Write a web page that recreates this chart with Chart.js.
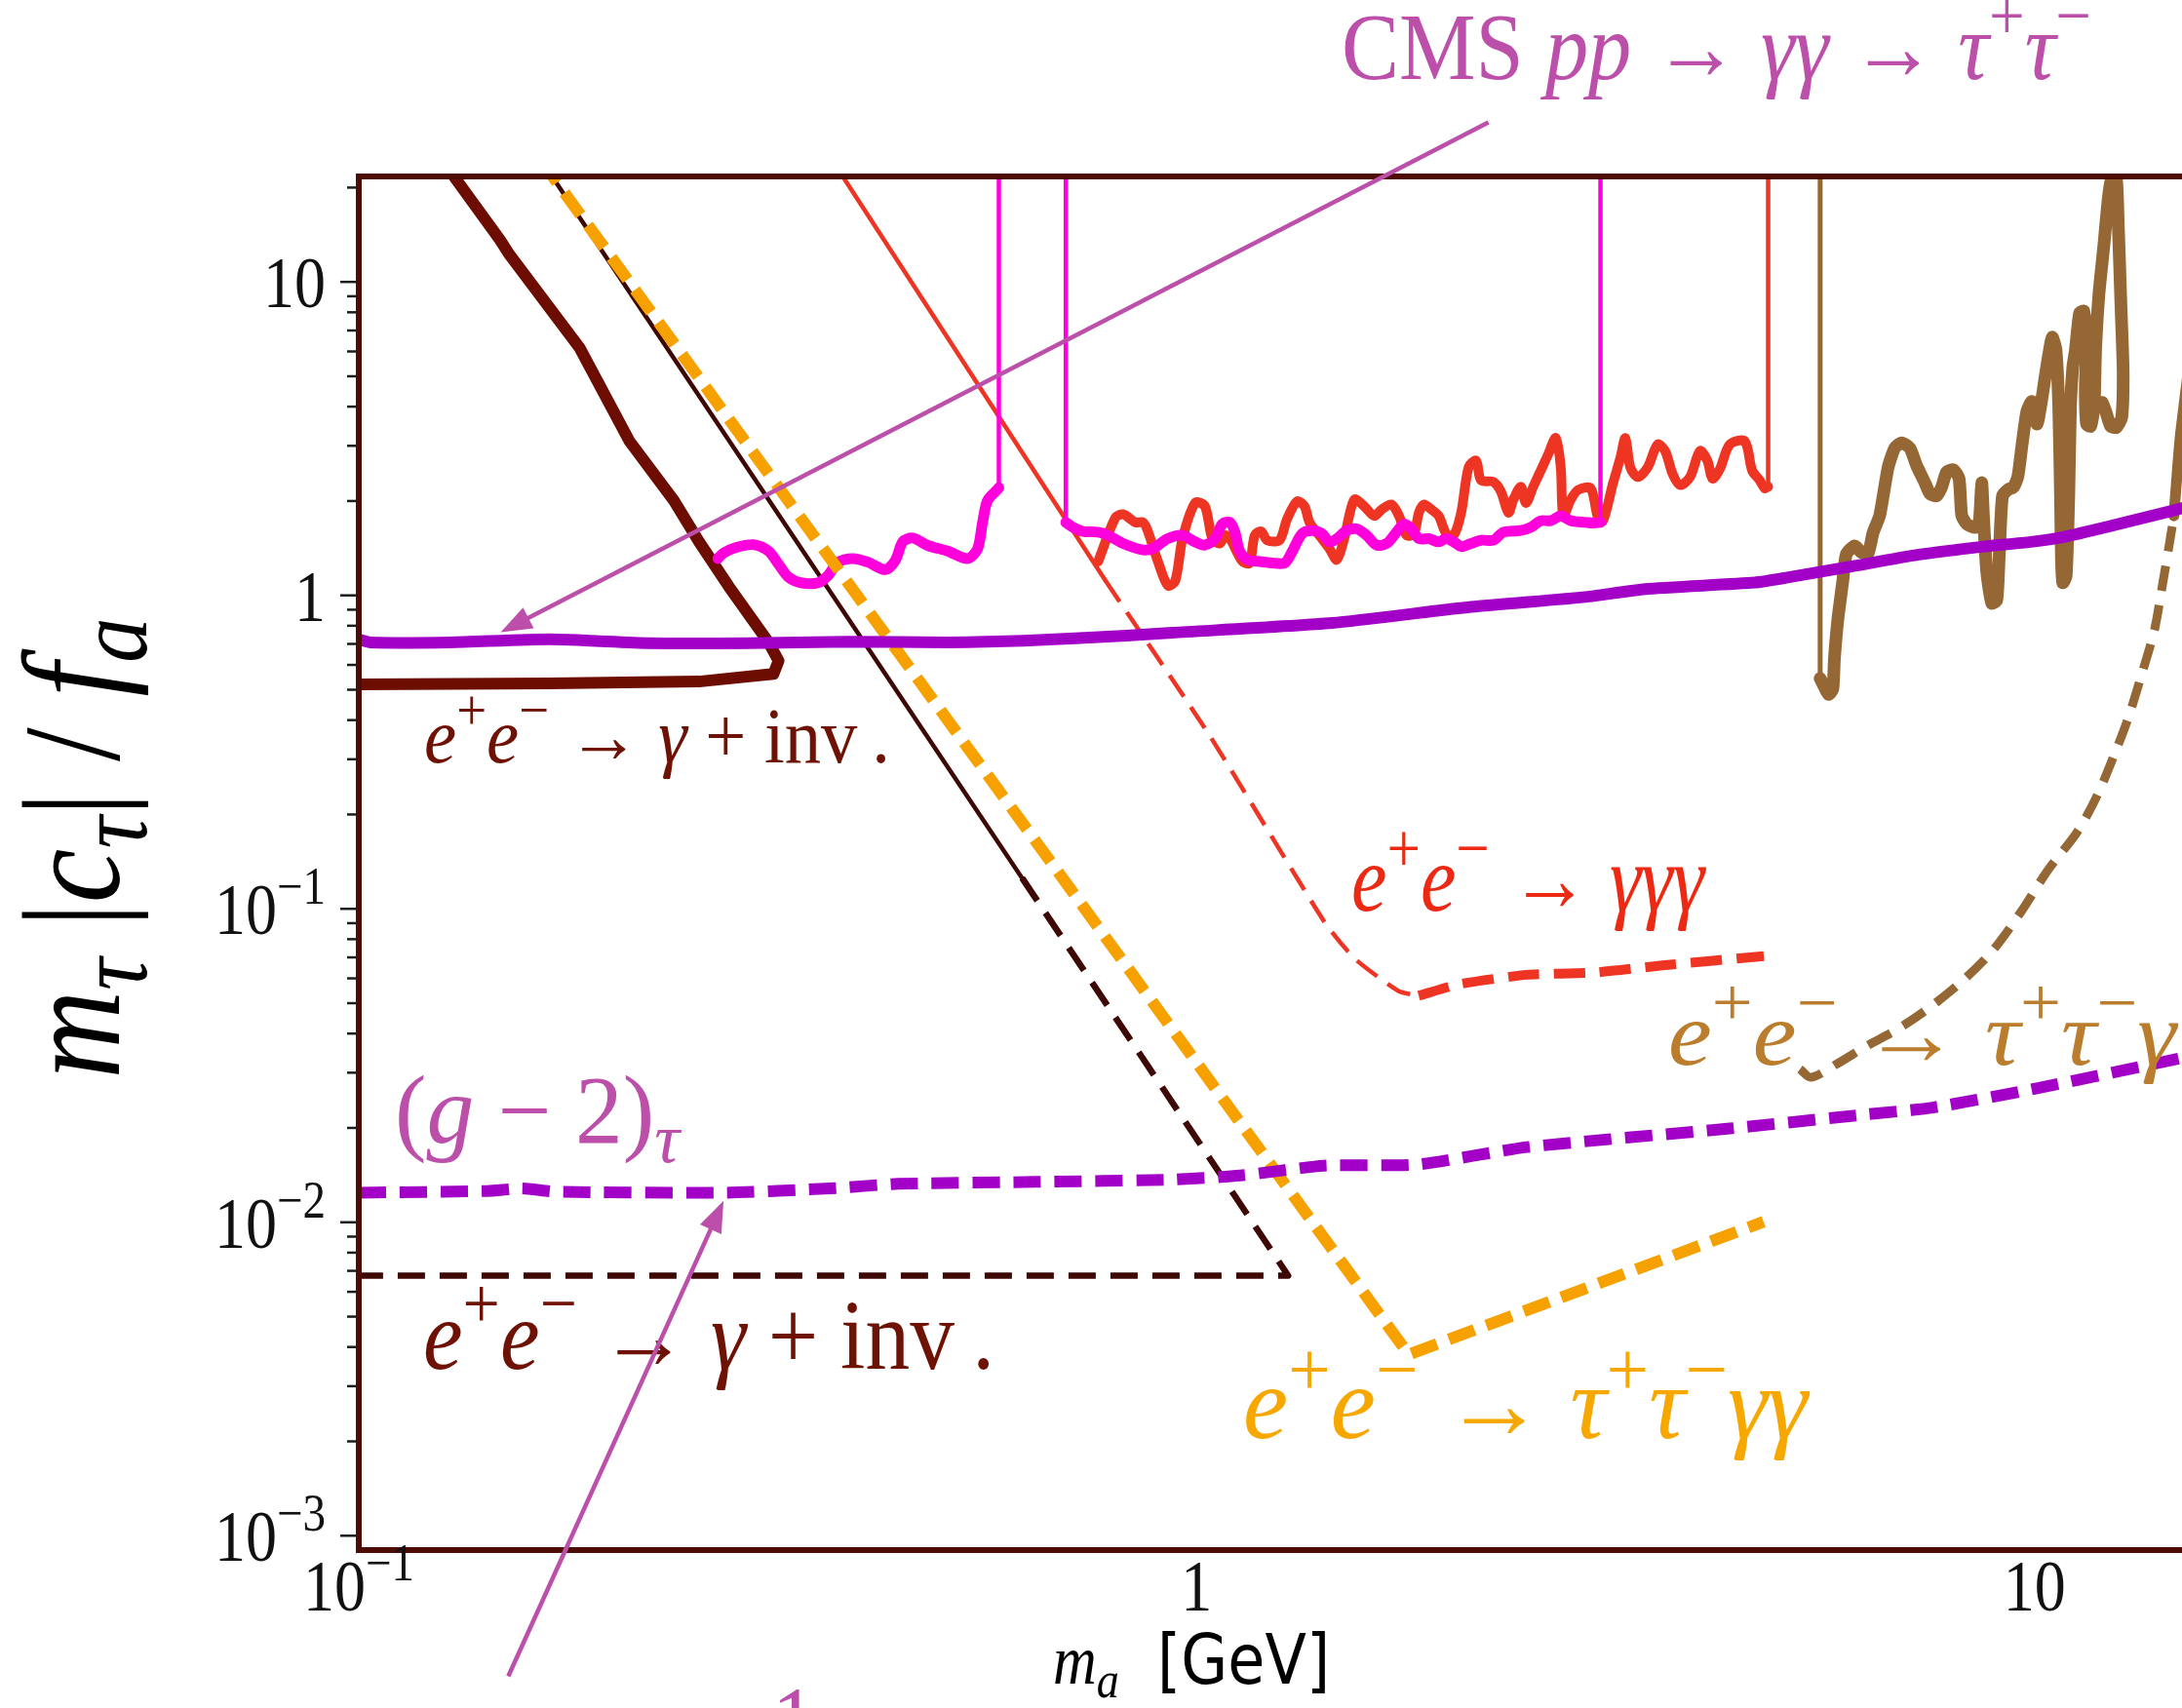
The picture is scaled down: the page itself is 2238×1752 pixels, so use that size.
<!DOCTYPE html>
<html>
<head>
<meta charset="utf-8">
<title>tau coupling limits</title>
<script src="https://cdn.jsdelivr.net/npm/chart.js@4.4.1/dist/chart.umd.min.js"></script>
<style>
	html, body { margin: 0; padding: 0; background: #fff; overflow: hidden; }
	#wrap { position: relative; width: 2238px; height: 1752px; }
</style>
</head>
<body>
<div id="wrap"><canvas id="limitChart"></canvas></div>
<script>
// axis ranges (GeV on x, m_tau |c_tau| / f_a on y)
const xRange = [0.1, 15.0];
const yRange = [0.0009, 21.7];
const xTickDecades = [0.1, 1, 10];
const yTickDecades = [0.001, 0.01, 0.1, 1, 10];

// e+e- -> gamma + inv. (thick, existing)
const monoMass = [0.1294, 0.1474, 0.1513, 0.1835, 0.2104, 0.2378, 0.2547, 0.2765, 0.3084, 0.317, 0.3126, 0.2547, 0.1689, 0.1];
const monoLimit = [22, 13.63, 12.22, 6.16, 3.105, 2.004, 1.483, 1.067, 0.708, 0.618, 0.5615, 0.531, 0.524, 0.52];

// e+e- -> gamma + inv. (thin projection, solid then dashed)
const monoProjMass = [0.165, 0.619];
const monoProjLimit = [24.5, 0.1254];
const monoProjDashMass = [0.619, 1.286, 0.1];
const monoProjDashLimit = [0.1254, 0.00676, 0.00676];

// e+e- -> tau+ tau- gamma gamma
const ttggMass = [0.165, 1.791, 4.75];
const ttggLimit = [24.4, 0.003786, 0.01004];

// e+e- -> gamma gamma gamma
const gggLineMass = [0.372, 0.7786];
const gggLineLimit = [23.2, 1.113];
const gggThinDashMass = [0.7786, 1.035, 1.419, 1.543, 1.741, 1.841];
const gggThinDashLimit = [1.113, 0.359, 0.0913, 0.0695, 0.0547, 0.0528];
const gggDashMass = [1.841, 2.059, 2.480, 2.985, 3.597, 4.753];
const gggDashLimit = [0.0528, 0.0575, 0.0616, 0.0626, 0.066, 0.0707];
const gggMass = [0.763, 0.800, 0.817, 0.834, 0.845, 0.863, 0.874, 0.899, 0.924, 0.943, 0.962, 0.996, 1.023, 1.044, 1.066, 1.081, 1.096, 1.134, 1.157, 1.173, 1.194, 1.214, 1.256, 1.282, 1.318, 1.345, 1.364, 1.411, 1.440, 1.470, 1.500, 1.542, 1.585, 1.629, 1.663, 1.708, 1.744, 1.780, 1.817, 1.842, 1.867, 1.906, 1.945, 1.986, 2.027, 2.069, 2.112, 2.156, 2.185, 2.261, 2.308, 2.356, 2.388, 2.438, 2.472, 2.522, 2.575, 2.628, 2.683, 2.720, 2.739, 2.796, 2.854, 2.953, 3.013, 3.055, 3.140, 3.205, 3.249, 3.293, 3.362, 3.455, 3.550, 3.624, 3.699, 3.776, 3.881, 3.988, 4.071, 4.127, 4.213, 4.329, 4.510, 4.603, 4.699, 4.764, 4.810];
const gggLimit = [1.284, 1.771, 1.814, 1.751, 1.709, 1.709, 1.610, 1.284, 1.074, 1.113, 1.517, 1.972, 1.925, 1.517, 1.464, 1.554, 1.517, 1.284, 1.269, 1.554, 1.599, 1.499, 1.499, 1.751, 1.996, 1.925, 1.709, 1.517, 1.412, 1.299, 1.517, 2.020, 1.925, 1.793, 1.880, 1.949, 1.793, 1.554, 1.573, 1.836, 1.949, 1.880, 1.793, 1.573, 1.554, 1.836, 2.564, 2.689, 2.330, 2.302, 2.144, 1.836, 2.020, 2.222, 1.972, 2.222, 2.503, 2.819, 3.177, 2.564, 1.793, 2.020, 2.170, 2.195, 1.771, 1.730, 2.275, 2.754, 3.177, 2.564, 2.386, 2.564, 3.029, 2.888, 2.444, 2.248, 2.386, 2.888, 2.689, 2.358, 2.533, 3.029, 3.102, 2.503, 2.330, 2.195, 2.222];
const gggEdgeMass = [4.81, 4.81];
const gggEdgeLimit = [2.222, 30];

// second e+e- -> gamma gamma gamma search (magenta)
const belleMassA = [0.2683, 0.2727, 0.2822, 0.2960, 0.3083, 0.3169, 0.3257, 0.3370, 0.3535, 0.3633, 0.3734, 0.3890, 0.4053, 0.4251, 0.4369, 0.4460, 0.4584, 0.4775, 0.5043, 0.5327, 0.5475, 0.5551, 0.5627, 0.5783, 0.5807];
const belleLimitA = [1.311, 1.366, 1.423, 1.451, 1.385, 1.258, 1.143, 1.097, 1.097, 1.159, 1.276, 1.311, 1.276, 1.208, 1.293, 1.483, 1.524, 1.443, 1.385, 1.311, 1.404, 1.700, 2.004, 2.176, 2.206];
const belleMassB = [0.698, 0.712, 0.732, 0.763, 0.784, 0.817, 0.863, 0.887, 0.924, 0.962, 0.996, 1.023, 1.052, 1.073, 1.096, 1.111, 1.126, 1.150, 1.181, 1.231, 1.274, 1.300, 1.336, 1.373, 1.411, 1.440, 1.470, 1.511, 1.553, 1.596, 1.640, 1.686, 1.732, 1.768, 1.805, 1.842, 1.893, 1.945, 1.986, 2.041, 2.069, 2.126, 2.185, 2.261, 2.324, 2.438, 2.505, 2.575, 2.646, 2.720, 2.796, 2.913, 2.972, 3.034];
const belleLimitB = [1.709, 1.649, 1.599, 1.591, 1.554, 1.464, 1.396, 1.412, 1.517, 1.554, 1.481, 1.447, 1.517, 1.689, 1.709, 1.591, 1.379, 1.299, 1.284, 1.269, 1.269, 1.379, 1.573, 1.610, 1.573, 1.481, 1.517, 1.610, 1.630, 1.554, 1.447, 1.464, 1.591, 1.689, 1.630, 1.517, 1.517, 1.481, 1.517, 1.464, 1.429, 1.464, 1.499, 1.499, 1.591, 1.610, 1.649, 1.730, 1.730, 1.793, 1.730, 1.709, 1.701, 1.709];
const belleEdgeMassA = [0.5807, 0.5807];
const belleEdgeLimitA = [2.206, 30];
const belleEdgeMassB = [0.698, 0.698];
const belleEdgeLimitB = [30, 1.709];
const belleEdgeMassC = [3.034, 3.034];
const belleEdgeLimitC = [1.709, 30];

// CMS pp -> gamma gamma -> tau tau
const cmsMass = [0.1, 0.1033, 0.1285, 0.169, 0.2221, 0.2919, 0.3837, 0.5043, 0.621, 0.825, 0.936, 1.45, 2.126, 2.913, 3.431, 4.636, 5.07, 6.06, 7.25, 8.66, 9.90, 10.83, 12.38, 14.81, 15.3];
const cmsLimit = [0.724, 0.708, 0.708, 0.724, 0.704, 0.704, 0.712, 0.708, 0.716, 0.744, 0.760, 0.816, 0.919, 0.988, 1.048, 1.099, 1.140, 1.238, 1.347, 1.429, 1.481, 1.535, 1.669, 1.880, 1.93];

// (g-2)_tau
const g2Mass = [0.1, 0.1424, 0.1565, 0.1719, 0.2751, 0.3648, 0.4401, 0.641, 0.934, 1.127, 1.419, 1.838, 2.48, 4.33, 6.28, 7.56, 10.0, 15.3];
const g2Limit = [0.01243, 0.01258, 0.01282, 0.01252, 0.01243, 0.01282, 0.01326, 0.01345, 0.01368, 0.0141, 0.01515, 0.0153, 0.01737, 0.01992, 0.02207, 0.02323, 0.02665, 0.0338];

// e+e- -> tau+ tau- gamma
const ttgEdgeMass = [5.549, 5.549];
const ttgEdgeLimit = [30, 0.5435];
const ttgMass = [5.549, 5.615, 5.677, 5.745, 5.771, 5.825, 5.906, 5.961, 6.099, 6.213, 6.329, 6.417, 6.536, 6.688, 6.812, 6.939, 7.100, 7.232, 7.400, 7.503, 7.642, 7.748, 7.856, 8.002, 8.128, 8.188, 8.300, 8.494, 8.588, 8.651, 8.691, 8.771, 8.893, 9.016, 9.074, 9.158, 9.312, 9.441, 9.556, 9.661, 9.795, 9.931, 10.07, 10.19, 10.30, 10.40, 10.50, 10.61, 10.69, 10.74, 10.77, 10.81, 10.91, 10.99, 11.04, 11.11, 11.19, 11.32, 11.45, 11.54, 11.50, 11.54, 11.67, 11.78, 11.83, 11.94, 12.10, 12.25, 12.36, 12.52, 12.59, 12.68, 12.76, 12.71, 12.52, 12.33, 12.16, 12.05];
const ttgLimit = [0.5435, 0.5099, 0.4830, 0.5017, 0.6277, 0.8365, 1.115, 1.350, 1.439, 1.372, 1.359, 1.584, 1.800, 2.557, 2.953, 3.068, 2.953, 2.598, 2.287, 2.111, 2.078, 2.215, 2.477, 2.517, 2.361, 1.800, 1.689, 1.646, 1.689, 2.287, 1.800, 1.188, 0.9441, 0.9656, 1.307, 2.078, 2.180, 2.215, 2.399, 3.000, 3.874, 4.156, 3.520, 4.129, 5.000, 5.866, 6.665, 6.056, 4.000, 2.111, 1.307, 1.097, 1.151, 2.111, 4.000, 5.330, 6.056, 7.945, 8.073, 6.665, 4.543, 3.520, 3.464, 4.000, 6.056, 9.173, 13.03, 18.51, 21.38, 21.59, 15.29, 8.607, 5.163, 3.693, 3.431, 3.464, 3.874, 4.129];
const ttgProjMass = [5.25, 5.41, 5.832, 6.283, 6.894, 7.564, 8.302, 8.946, 9.635, 10.38, 11.25, 11.9, 12.5, 12.95, 13.42, 13.91, 14.22, 14.48, 14.67];
const ttgProjLimit = [0.0308, 0.029, 0.0322, 0.0363, 0.0416, 0.0493, 0.0606, 0.0744, 0.0978, 0.133, 0.176, 0.232, 0.318, 0.409, 0.557, 0.778, 1.086, 1.446, 1.793];
const ttgTailMass = [14.67, 14.81, 14.94, 15.3];
const ttgTailLimit = [1.793, 2.51, 3.29, 5.5];

// colours
const cPurple = '#a200c6';
const cNote = '#bc4fa9';
const cMagenta = '#ff00dc';
const cRed = '#ee3524';
const cOrange = '#f6a100';
const cBrown = '#956735';
const cMaroon = '#6d0c00';
const cMaroonThin = '#3e0805';
const cFrame = '#4e0c06';

function pts(xs, ys) {
	return xs.map((x, i) => ({ x: x, y: ys[i] }));
}

function line(xs, ys, color, width, dash, tension) {
	return {
		data: pts(xs, ys),
		borderColor: color,
		borderWidth: width,
		borderDash: dash || [],
		borderCapStyle: dash ? 'butt' : 'round',
		borderJoinStyle: 'round',
		tension: tension || 0,
		pointRadius: 0,
		fill: false,
	};
}

// first in list is drawn on top
const datasets = [
	line(cmsMass, cmsLimit, cPurple, 12, null, 0.2),
	line(g2Mass, g2Limit, cPurple, 12, [28, 14], 0.2),
	line(ttggMass, ttggLimit, cOrange, 12, [28, 13]),
	line(belleMassA, belleLimitA, cMagenta, 11, null, 0.3),
	line(belleMassB, belleLimitB, cMagenta, 11, null, 0.3),
	line(belleEdgeMassA, belleEdgeLimitA, cMagenta, 4.5),
	line(belleEdgeMassB, belleEdgeLimitB, cMagenta, 4.5),
	line(belleEdgeMassC, belleEdgeLimitC, cMagenta, 4.5),
	line(gggMass, gggLimit, cRed, 10, null, 0.3),
	line(gggEdgeMass, gggEdgeLimit, cRed, 4.5),
	line(gggDashMass, gggDashLimit, cRed, 10, [32, 15], 0.2),
	line(gggThinDashMass, gggThinDashLimit, cRed, 4.5, [26, 13], 0.2),
	line(gggLineMass, gggLineLimit, cRed, 4.5),
	line(ttgMass, ttgLimit, cBrown, 13, null, 0.2),
	line(ttgEdgeMass, ttgEdgeLimit, cBrown, 5),
	line(ttgProjMass, ttgProjLimit, cBrown, 9, [26, 15], 0.3),
	line(ttgTailMass, ttgTailLimit, cBrown, 11, null, 0.2),
	line(monoMass, monoLimit, cMaroon, 12),
	line(monoProjMass, monoProjLimit, cMaroonThin, 4.5),
	line(monoProjDashMass, monoProjDashLimit, cMaroonThin, 6.5, [28, 15]),
];

// text labels and arrows (pixel anchors for text, data anchors for arrows)
const ee = [['e', 'i'], ['+', 'sup'], ['e', 'i'], ['−', 'sup']];
const notes = [
	{ parts: [['CMS ', 'r'], ['pp', 'i'], [' → ', 'r'], ['γγ', 'i'], [' → ', 'r'], ['τ', 'i'], ['+', 'sup'], ['τ', 'i'], ['−', 'sup']], x: 1376, y: 81, size: 87, width: 769, color: cNote },
	{ parts: ee.concat([[' → ', 'r'], ['γ', 'i'], [' + inv\u2009.', 'r']]), x: 435, y: 782, size: 72, width: 478, color: '#6f1206' },
	{ parts: ee.concat([[' → ', 'r'], ['γγγ', 'i']]), x: 1386, y: 934, size: 86, width: 362, color: '#ec2a14' },
	{ parts: ee.concat([[' → ', 'r'], ['τ', 'i'], ['+', 'sup'], ['τ', 'i'], ['−', 'sup'], ['γ', 'i']]), x: 1711, y: 1092, size: 84, width: 521, color: '#b97d2d' },
	{ parts: [['(', 'r'], ['g', 'i'], [' − 2)', 'r'], ['τ', 'subi']], x: 405, y: 1172, size: 88, width: 292, color: cNote },
	{ parts: ee.concat([[' → ', 'r'], ['γ', 'i'], [' + inv\u2009.', 'r']]), x: 434, y: 1404, size: 90, width: 586, color: '#6f1206' },
	{ parts: ee.concat([[' → ', 'r'], ['τ', 'i'], ['+', 'sup'], ['τ', 'i'], ['−', 'sup'], ['γγ', 'i']]), x: 1275, y: 1475, size: 94, width: 579, color: '#f7a800' },
	{ parts: [['1', 'r']], x: 792, y: 1800, size: 90, color: cNote },
];
const arrows = [
	{ from: [2.23, 32.3], to: [0.1477, 0.763] },
	{ from: [0.1508, 0.000356], to: [0.2725, 0.0117] },
];

function fontOf(st, size) {
	const small = st.startsWith('sup') || st.startsWith('sub');
	const ital = st === 'i' || st === 'subi' || st === 'supi';
	const fam = st === 'sans' ? '"DejaVu Sans", sans-serif' : '"Liberation Serif", "Times New Roman", serif';
	return (ital ? 'italic ' : '') + Math.round(small ? size * 0.74 : size) + 'px ' + fam;
}

function drawRich(ctx, parts, x, y, o) {
	ctx.save();
	let w = 0;
	const widths = parts.map(([t, st]) => {
		ctx.font = fontOf(st, o.size);
		const m = ctx.measureText(t).width;
		w += m;
		return m;
	});
	const sx = o.width ? o.width / w : 1;
	const sy = o.sy || 1.12;
	let x0 = x;
	if (o.align === 'center') x0 = x - w * sx / 2;
	else if (o.align === 'right') x0 = x - w * sx;
	ctx.translate(x0, y);
	ctx.scale(sx, sy);
	ctx.fillStyle = o.color;
	ctx.textAlign = 'left';
	ctx.textBaseline = 'alphabetic';
	let cx = 0;
	parts.forEach(([t, st], i) => {
		ctx.font = fontOf(st, o.size);
		let dy = 0;
		if (st.startsWith('sup')) dy = -0.42 * o.size;
		if (st.startsWith('sub')) dy = 0.2 * o.size;
		ctx.fillText(t, cx, dy);
		cx += widths[i];
	});
	ctx.restore();
}

function decadeParts(v) {
	const e = Math.round(Math.log10(v));
	if (e === 0) return [['1', 'r']];
	if (e === 1) return [['10', 'r']];
	return [['10', 'r'], ['−' + Math.abs(e), 'sup']];
}

const decor = {
	id: 'decor',
	afterDatasetsDraw(chart) {
		const { ctx, chartArea: a, scales: { x, y } } = chart;
		ctx.save();

		// frame
		ctx.strokeStyle = cFrame;
		ctx.lineWidth = 6;
		ctx.lineCap = 'square';
		ctx.beginPath();
		ctx.moveTo(a.right + 5, a.top);
		ctx.lineTo(a.left, a.top);
		ctx.lineTo(a.left, a.bottom);
		ctx.lineTo(a.right + 5, a.bottom);
		ctx.stroke();

		// y ticks from the scale
		ctx.strokeStyle = '#1c1c1c';
		ctx.lineWidth = 2.5;
		ctx.lineCap = 'butt';
		y.ticks.forEach(t => {
			const v = t.value;
			const p = Math.floor(Math.log10(v) + 1e-9);
			const m = v / Math.pow(10, p);
			if (Math.abs(m - Math.round(m)) > 1e-6) return;
			const py = y.getPixelForValue(v);
			if (py < a.top + 2 || py > a.bottom - 2) return;
			const len = Math.round(m) === 1 ? 16 : 9;
			ctx.beginPath();
			ctx.moveTo(a.left - len - 3, py);
			ctx.lineTo(a.left - 3, py);
			ctx.stroke();
		});

		// tick labels
		yTickDecades.forEach(v => {
			drawRich(ctx, decadeParts(v), 334, y.getPixelForValue(v) + 26, { size: 64, sy: 1.15, color: '#111', align: 'right' });
		});
		xTickDecades.forEach(v => {
			drawRich(ctx, decadeParts(v), x.getPixelForValue(v), 1652, { size: 64, sy: 1.15, color: '#111', align: 'center' });
		});

		// axis titles
		drawRich(ctx, [['m', 'i'], ['a', 'subi'], ['  [GeV]', 'sans']], 1222, 1727, { size: 62, sy: 1.15, color: '#000', align: 'center' });
		ctx.save();
		ctx.translate(122, 870);
		ctx.rotate(-Math.PI / 2);
		drawRich(ctx, [['m', 'i'], ['τ', 'subi'], [' |', 'r'], ['c', 'i'], ['τ', 'subi'], ['| / ', 'r'], ['f', 'i'], ['a', 'subi']], 0, 0, { size: 126, sy: 1.12, width: 473, color: '#000', align: 'center' });
		ctx.restore();

		// labels
		notes.forEach(n => drawRich(ctx, n.parts, n.x, n.y, { size: n.size, width: n.width, color: n.color }));

		// arrows
		arrows.forEach(ar => {
			const x1 = x.getPixelForValue(ar.from[0]), y1 = y.getPixelForValue(ar.from[1]);
			const x2 = x.getPixelForValue(ar.to[0]), y2 = y.getPixelForValue(ar.to[1]);
			const ang = Math.atan2(y2 - y1, x2 - x1);
			const hl = 32, hw = 12;
			ctx.strokeStyle = cNote;
			ctx.fillStyle = cNote;
			ctx.lineWidth = 4.5;
			ctx.beginPath();
			ctx.moveTo(x1, y1);
			ctx.lineTo(x2 - hl * 0.8 * Math.cos(ang), y2 - hl * 0.8 * Math.sin(ang));
			ctx.stroke();
			ctx.beginPath();
			ctx.moveTo(x2, y2);
			ctx.lineTo(x2 - hl * Math.cos(ang) + hw * Math.sin(ang), y2 - hl * Math.sin(ang) - hw * Math.cos(ang));
			ctx.lineTo(x2 - hl * Math.cos(ang) - hw * Math.sin(ang), y2 - hl * Math.sin(ang) + hw * Math.cos(ang));
			ctx.closePath();
			ctx.fill();
		});
		ctx.restore();
	}
};

new Chart(document.getElementById('limitChart'), {
	type: 'line',
	data: { datasets: datasets },
	options: {
		responsive: true,
		maintainAspectRatio: false,
		animation: false,
		devicePixelRatio: 1,
		layout: { padding: { left: 368, top: 181, right: 0, bottom: 162 } },
		plugins: {
			legend: { display: false },
			tooltip: { enabled: false },
		},
		scales: {
			x: {
				type: 'logarithmic',
				min: xRange[0],
				max: xRange[1],
				ticks: { display: false },
				grid: { display: false },
				border: { display: false },
				afterFit: s => { s.height = 0; },
			},
			y: {
				type: 'logarithmic',
				min: yRange[0],
				max: yRange[1],
				ticks: { display: false },
				grid: { display: false },
				border: { display: false },
				afterFit: s => { s.width = 0; },
			}
		}
	},
	plugins: [decor]
});
</script>
</body>
</html>
